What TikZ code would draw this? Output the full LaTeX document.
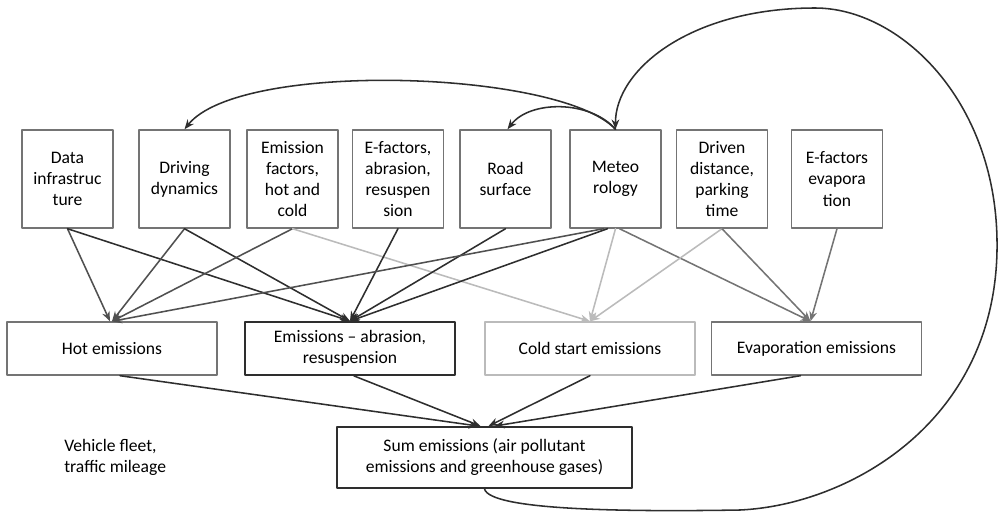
\documentclass[tikz,border=0pt]{standalone}
\usepackage{fontspec}
\setmainfont{Carlito}
\usetikzlibrary{arrows.meta}

\definecolor{ink}{HTML}{2E2E2E}
\definecolor{darkgray}{HTML}{505050}
\definecolor{midgray}{HTML}{747474}
\definecolor{lightgray}{HTML}{BBBBBB}

\begin{document}
\begin{tikzpicture}[
    x=0.025cm,
    y=-0.025cm,
    line join=round,
    line cap=round,
    font=\fontsize{12.5}{15}\selectfont,
    topbox/.style={draw=midgray, line width=1pt, align=center, inner sep=0pt,
        minimum width=2.275cm, minimum height=2.45cm},
    emibox/.style={line width=1pt, align=center, inner sep=0pt,
        minimum width=5.25cm, minimum height=1.325cm},
    conn/.style={-{Stealth[length=7pt,width=5.5pt]}, line width=1.1pt},
    loop/.style={-{Stealth[length=7pt,width=5.5pt]}, line width=1.1pt, ink}
]
    \useasboundingbox (0,0) rectangle (1007,512);

    % 输入数据
    \node[topbox] (data)    at (67.5,179)  {Data\\infrastruc\\ture};
    \node[topbox] (driving) at (184.5,179) {Driving\\dynamics};
    \node[topbox] (emfac)   at (292.5,179) {Emission\\factors,\\hot and\\cold};
    \node[topbox] (abrfac)  at (398,179)   {E-factors,\\abrasion,\\resuspen\\sion};
    \node[topbox] (road)    at (505.5,179) {Road\\surface};
    \node[topbox] (meteo)   at (615.5,179) {Meteo\\rology};
    \node[topbox] (driven)  at (722,179)   {Driven\\distance,\\parking\\time};
    \node[topbox] (evapfac) at (837,179)   {E-factors\\evapora\\tion};

    % 排放类别
    \node[emibox, draw=midgray]   (hot)  at (112,348.5)   {Hot emissions};
    \node[emibox, draw=ink, line width=1.3pt] (abr) at (350,348.5) {Emissions -- abrasion,\\resuspension};
    \node[emibox, draw=lightgray] (cold) at (590,348.5)   {Cold start emissions};
    \node[emibox, draw=midgray]   (evap) at (816.5,348.5) {Evaporation emissions};

    % 总排放
    \node[draw=ink, line width=1.3pt, align=center, inner sep=0pt,
        minimum width=7.375cm, minimum height=1.525cm] (sum) at (484.5,457.5)
        {Sum emissions (air pollutant\\emissions and greenhouse gases)};
    \node[anchor=west, align=left, inner sep=0pt] (fleet) at (64,457.5)
        {Vehicle fleet,\\traffic mileage};

    % 输入 -> 排放类别
    \draw[conn, darkgray] (data.south) -- ([xshift=-0.05cm]hot.north);
    \draw[conn, ink] (data.south) -- (abr.north);
    \draw[conn, darkgray] (driving.south) -- (hot.north);
    \draw[conn, ink] (driving.south) -- (abr.north);
    \draw[conn, darkgray] (emfac.south) -- (hot.north);
    \draw[conn, lightgray] (emfac.south) -- (cold.north);
    \draw[conn, ink] (abrfac.south) -- (abr.north);
    \draw[conn, ink] (road.south) -- (abr.north);
    \draw[conn, darkgray] ([xshift=-0.3cm]meteo.south) -- (hot.north);
    \draw[conn, ink] ([xshift=-0.2cm]meteo.south) -- (abr.north);
    \draw[conn, lightgray] (meteo.south) -- (cold.north);
    \draw[conn, midgray] ([xshift=0.1cm]meteo.south) -- ([xshift=-0.15cm]evap.north);
    \draw[conn, lightgray] (driven.south) -- (cold.north);
    \draw[conn, midgray] (driven.south) -- ([xshift=-0.15cm]evap.north);
    \draw[conn, midgray] (evapfac.south) -- ([xshift=-0.15cm]evap.north);

    % 排放类别 -> 总排放
    \draw[conn, ink] ([xshift=0.2cm]hot.south) -- ([xshift=-0.15cm]sum.north);
    \draw[conn, ink] ([xshift=0.1cm]abr.south) -- ([xshift=-0.1cm]sum.north);
    \draw[conn, ink] (cold.south) -- ([xshift=0.1cm]sum.north);
    \draw[conn, ink] ([xshift=-0.4cm]evap.south) -- ([xshift=0.25cm]sum.north);

    % 气象的反馈
    \draw[loop] (meteo.north) .. controls (560,70) and (240,60) .. (driving.north);
    \draw[loop] (meteo.north) .. controls (590,100) and (530,100) .. ([xshift=0.05cm]road.north);
    \draw[loop] (sum.south) .. controls (490,510) and (620,512) .. (740,510)
        .. controls (850,505) and (1000,420) .. (997,240)
        .. controls (995,100) and (900,8) .. (815,8)
        .. controls (690,8) and (615,70) .. (meteo.north);
\end{tikzpicture}
\end{document}
